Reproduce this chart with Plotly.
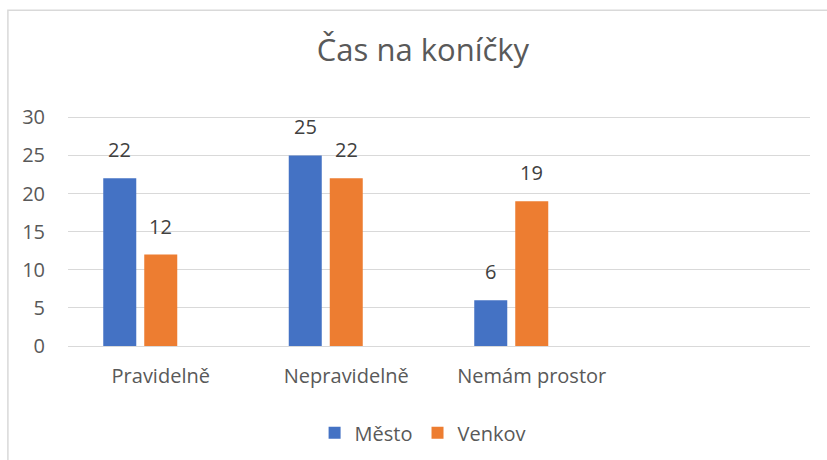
import plotly.graph_objects as go

categories = ["Pravidelně", "Nepravidelně", "Nemám prostor"]
mesto = [22, 25, 6]
venkov = [12, 22, 19]
series_names = ["Město", "Venkov"]
colors = ["#4472C4", "#ED7D31"]
title = "Čas na koníčky"
y_ticks = [0, 5, 10, 15, 20, 25, 30]

FONT = "Open Sans"
TXT = "#595959"
GRID = "#D9D9D9"

xs = list(range(len(categories)))
fig = go.Figure()
for name, vals, col in zip(series_names, [mesto, venkov], colors):
    fig.add_trace(go.Bar(x=xs, y=vals, name=name, marker_color=col,
                         marker_line_width=0))
# empty third series slot (as in the original chart)
fig.add_trace(go.Bar(x=xs, y=[None] * len(xs), name="", showlegend=False,
                     hoverinfo="skip"))

# data labels above bars
slot_shift = [-41, 0]
for vals, sh in zip([mesto, venkov], slot_shift):
    for xi, v in zip(xs, vals):
        fig.add_annotation(x=xi, y=v, text=str(v), showarrow=False,
                           xshift=sh, yshift=13, yanchor="bottom",
                           font=dict(family=FONT, size=20, color="#404040"))

fig.update_layout(
    width=827, height=460,
    margin=dict(l=68, r=17, t=115, b=114),
    paper_bgcolor="white", plot_bgcolor="white",
    barmode="group", bargap=0.337, bargroupgap=0.195,
    title=dict(text=title, x=0.5115, xref="container", xanchor="center",
               y=0.891, yref="container", yanchor="middle",
               font=dict(family=FONT, size=31, color=TXT)),
    legend=dict(orientation="h", xref="container", yref="container",
                x=0.511, xanchor="center", y=0.059, yanchor="middle",
                font=dict(family=FONT, size=20, color=TXT),
                itemwidth=30, tracegroupgap=0),
    showlegend=True,
    font=dict(family=FONT, color=TXT),
)
fig.update_xaxes(range=[-0.5, len(categories) + 0.5], tickvals=xs,
                 ticktext=categories, showgrid=False, zeroline=False,
                 showline=False, ticks="", ticklabelstandoff=16,
                 tickfont=dict(family=FONT, size=20, color=TXT))
fig.update_yaxes(range=[0, 30.3], tickvals=y_ticks, showgrid=True,
                 gridcolor=GRID, gridwidth=1.3, zeroline=True,
                 zerolinecolor=GRID, zerolinewidth=1.3, showline=False,
                 ticks="", ticklabelstandoff=22,
                 tickfont=dict(family=FONT, size=20, color=TXT))

# chart area border (partially visible in original)
fig.add_shape(type="rect", xref="paper", yref="paper",
              x0=-0.081, x1=1.2, y0=-1.0, y1=1.4535,
              line=dict(color=GRID, width=1.5), fillcolor="rgba(0,0,0,0)",
              layer="below")

fig.write_html("out.html", config={"displayModeBar": False},
               post_script="document.body.style.margin='0';")
